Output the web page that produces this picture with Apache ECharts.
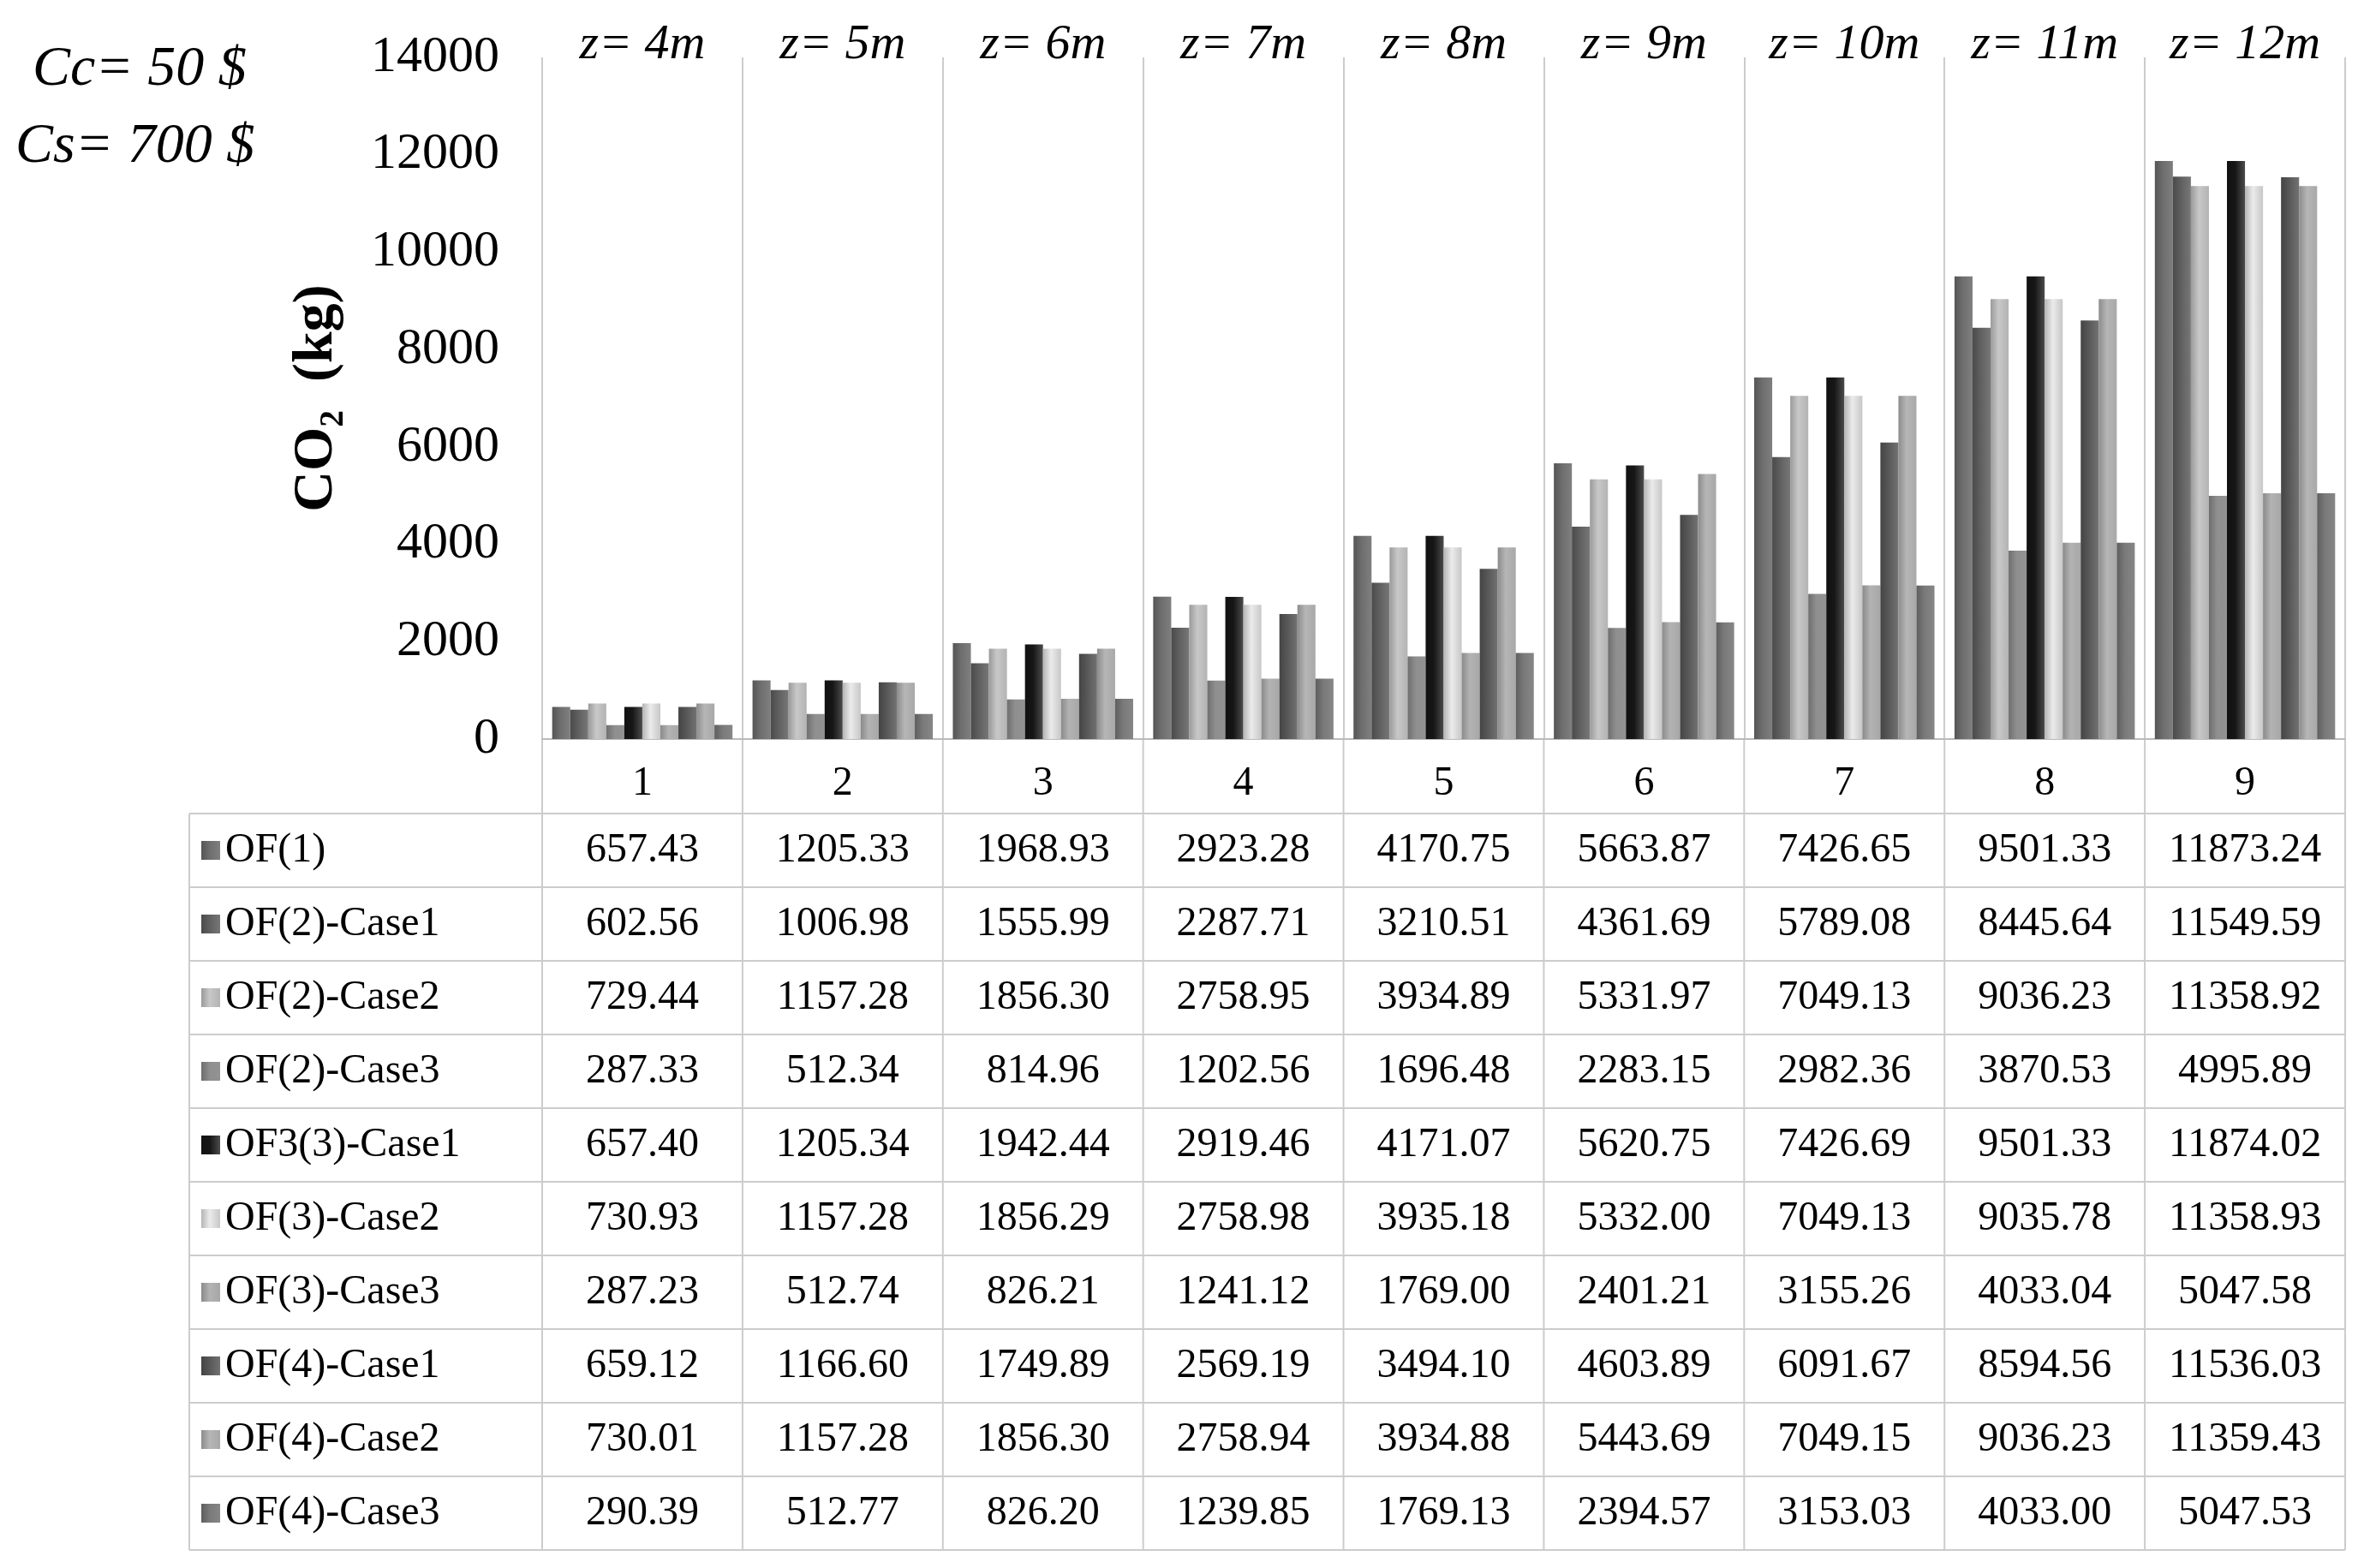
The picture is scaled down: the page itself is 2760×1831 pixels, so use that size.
<!DOCTYPE html><html><head><meta charset="utf-8">
<script src="https://cdn.jsdelivr.net/npm/echarts@6/dist/echarts.min.js"></script>
<style>html,body{margin:0;background:#fff}#c{width:2760px;height:1831px}</style></head><body><div id="c"></div><script>
const categories=['1','2','3','4','5','6','7','8','9'];
const zLabels=['z= 4m','z= 5m','z= 6m','z= 7m','z= 8m','z= 9m','z= 10m','z= 11m','z= 12m'];
const seriesNames=['OF(1)','OF(2)-Case1','OF(2)-Case2','OF(2)-Case3','OF3(3)-Case1','OF(3)-Case2','OF(3)-Case3','OF(4)-Case1','OF(4)-Case2','OF(4)-Case3'];
const of1=[657.43,1205.33,1968.93,2923.28,4170.75,5663.87,7426.65,9501.33,11873.24];
const of2c1=[602.56,1006.98,1555.99,2287.71,3210.51,4361.69,5789.08,8445.64,11549.59];
const of2c2=[729.44,1157.28,1856.30,2758.95,3934.89,5331.97,7049.13,9036.23,11358.92];
const of2c3=[287.33,512.34,814.96,1202.56,1696.48,2283.15,2982.36,3870.53,4995.89];
const of3c1=[657.40,1205.34,1942.44,2919.46,4171.07,5620.75,7426.69,9501.33,11874.02];
const of3c2=[730.93,1157.28,1856.29,2758.98,3935.18,5332.00,7049.13,9035.78,11358.93];
const of3c3=[287.23,512.74,826.21,1241.12,1769.00,2401.21,3155.26,4033.04,5047.58];
const of4c1=[659.12,1166.60,1749.89,2569.19,3494.10,4603.89,6091.67,8594.56,11536.03];
const of4c2=[730.01,1157.28,1856.30,2758.94,3934.88,5443.69,7049.15,9036.23,11359.43];
const of4c3=[290.39,512.77,826.20,1239.85,1769.13,2394.57,3153.03,4033.00,5047.53];
const allData=[of1,of2c1,of2c2,of2c3,of3c1,of3c2,of3c3,of4c1,of4c2,of4c3];
const baseColors=['#555555','#4a4a4a','#9a9a9a','#6e6e6e','#111111','#b5b5b5','#8a8a8a','#444444','#8c8c8c','#5e5e5e'];
function grad(c){return new echarts.graphic.LinearGradient(0,0,1,0,[{offset:0,color:c},{offset:0.45,color:echarts.color.lift(c,-0.3)},{offset:1,color:echarts.color.lift(c,0.25)}]);}
const FONT='"Liberation Serif","DejaVu Serif",serif';
const chart=echarts.init(document.getElementById('c'));
const L=633,R=2738,T=67,B=863,TL=221,rowTop=950,rowH=86;
chart.setOption({
 animation:false,
 grid:{left:L,right:2760-R,top:T,bottom:1831-B},
 xAxis:{type:'category',data:categories,axisTick:{show:false},axisLine:{lineStyle:{color:'#bbb',width:2}},
  axisLabel:{fontFamily:FONT,fontSize:48,color:'#000',margin:28},
  splitLine:{show:true,lineStyle:{color:'#ccc',width:2}}},
 yAxis:{type:'value',min:0,max:14000,interval:2000,splitLine:{show:false},axisLine:{show:false},
  axisLabel:{fontFamily:FONT,fontSize:60,color:'#000',margin:50,formatter:v=>String(v)},
  name:'CO₂  (kg)',nameLocation:'middle',nameGap:230,nameTextStyle:{fontFamily:FONT,fontSize:66,fontWeight:'bold',color:'#000'}},
 series:allData.map((d,i)=>({name:seriesNames[i],type:'bar',data:d,barGap:'0%',barCategoryGap:'10%',
   itemStyle:{color:grad(baseColors[i])}}))
});
const g=[];
const cw=(R-L)/9;
const bottom=rowTop+rowH*10;
zLabels.forEach((z,i)=>{const x=chart.convertToPixel({xAxisIndex:0},categories[i]);
 g.push({type:'text',x:x,y:53,style:{text:z,fontFamily:FONT,fontStyle:'italic',fontSize:58,fill:'#000',align:'center',verticalAlign:'middle'}});});
g.push({type:'text',x:38,y:82,style:{text:'Cc= 50 $',fontFamily:FONT,fontStyle:'italic',fontSize:66,fill:'#000',verticalAlign:'middle'}});
g.push({type:'text',x:18,y:172,style:{text:'Cs= 700 $',fontFamily:FONT,fontStyle:'italic',fontSize:66,fill:'#000',verticalAlign:'middle'}});
for(let r=0;r<=10;r++){const y=rowTop+r*rowH;g.push({type:'line',shape:{x1:TL,y1:y,x2:R,y2:y},style:{stroke:'#ccc',lineWidth:2}});}
g.push({type:'line',shape:{x1:TL,y1:rowTop,x2:TL,y2:bottom},style:{stroke:'#ccc',lineWidth:2}});
for(let k=0;k<=9;k++){const x=L+k*cw;g.push({type:'line',shape:{x1:x,y1:B,x2:x,y2:bottom},style:{stroke:'#ccc',lineWidth:2}});}
seriesNames.forEach((n,r)=>{const yc=rowTop+r*rowH+rowH/2;
 g.push({type:'rect',shape:{x:235,y:yc-11,width:22,height:22},style:{fill:grad(baseColors[r])}});
 g.push({type:'text',x:263,y:yc,style:{text:n,fontFamily:FONT,fontSize:48,fill:'#000',verticalAlign:'middle'}});
 allData[r].forEach((v,i)=>{const x=chart.convertToPixel({xAxisIndex:0},categories[i]);
  g.push({type:'text',x:x,y:yc,style:{text:v.toFixed(2),fontFamily:FONT,fontSize:48,fill:'#000',align:'center',verticalAlign:'middle'}});});
});
chart.setOption({graphic:g});
</script></body></html>
